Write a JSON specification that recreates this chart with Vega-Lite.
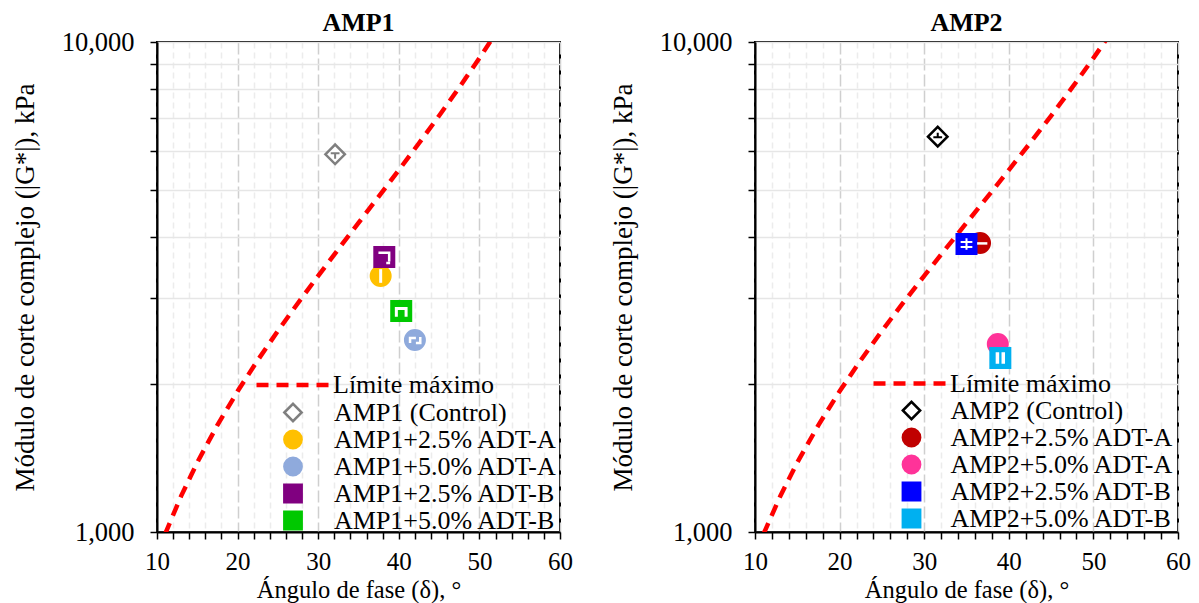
{
  "$schema": "https://vega.github.io/schema/vega-lite/v6.json",
  "padding": {"left": 10, "top": 9, "right": 5, "bottom": 0},
  "background": "white",
  "datasets": {
    "curve": [
      {"d": 11, "g": 990}, {"d": 13, "g": 1185}, {"d": 15, "g": 1387}, {"d": 17.5, "g": 1653},
      {"d": 20, "g": 1937}, {"d": 22.5, "g": 2242}, {"d": 25, "g": 2573}, {"d": 27.5, "g": 2934},
      {"d": 30, "g": 3333}, {"d": 32.5, "g": 3777}, {"d": 35, "g": 4274}, {"d": 37.5, "g": 4836},
      {"d": 40, "g": 5477}, {"d": 42.5, "g": 6214}, {"d": 45, "g": 7071}, {"d": 47.5, "g": 8077},
      {"d": 50, "g": 9270}, {"d": 52, "g": 10395}
    ],
    "amp1": [
      {"s": "AMP1 (Control)", "d": 32.1, "g": 5900},
      {"s": "AMP1+2.5% ADT-A", "d": 37.75, "g": 3330},
      {"s": "AMP1+5.0% ADT-A", "d": 42.0, "g": 2465},
      {"s": "AMP1+2.5% ADT-B", "d": 38.2, "g": 3640},
      {"s": "AMP1+5.0% ADT-B", "d": 40.3, "g": 2825}
    ],
    "amp2": [
      {"s": "AMP2 (Control)", "d": 31.6, "g": 6410},
      {"s": "AMP2+2.5% ADT-A", "d": 36.6, "g": 3890},
      {"s": "AMP2+5.0% ADT-A", "d": 38.7, "g": 2420},
      {"s": "AMP2+2.5% ADT-B", "d": 35.0, "g": 3870},
      {"s": "AMP2+5.0% ADT-B", "d": 39.0, "g": 2265}
    ]
  },
  "spacing": 34,
  "resolve": {
    "scale": {"x": "independent", "y": "independent", "fill": "independent", "stroke": "independent", "shape": "independent", "strokeDash": "independent"},
    "legend": {"fill": "independent", "stroke": "independent", "shape": "independent", "strokeDash": "independent"}
  },
  "hconcat": [
    {
      "width": 403,
      "height": 490,
      "title": "AMP1",
      "encoding": {
        "x": {"field": "d", "type": "quantitative", "scale": {"domain": [10, 60], "nice": false, "zero": false},
          "axis": {"title": "Ángulo de fase (δ), °", "values": [10,12,14,16,18,20,22,24,26,28,30,32,34,36,38,40,42,44,46,48,50,52,54,56,58,60],
            "labelExpr": "datum.value % 10 === 0 ? datum.label : ''", "labelPadding": 10, "titlePadding": 4, "labelFontSize": 25, "titleFontSize": 24.5,
            "gridColor": {"condition": {"test": "datum.value % 10 === 0", "value": "#cfcfcf"}, "value": "#ececec"},
            "gridDash": {"condition": {"test": "datum.value % 10 === 0", "value": [12, 4]}, "value": [6, 4]},
            "gridWidth": 1.5}},
        "y": {"field": "g", "type": "quantitative", "scale": {"type": "log", "domain": [1000, 10000], "nice": false},
          "axis": {"title": "Módulo de corte complejo (|G*|), kPa", "values": [1000,2000,3000,4000,5000,6000,7000,8000,9000,10000],
            "format": ",", "labelExpr": "datum.value === 1000 || datum.value === 10000 ? datum.label : ''", "labelFontSize": 26.5, "titleFontSize": 27,
            "labelPadding": 16, "titlePadding": 22, "gridColor": "#e6e6e6", "gridWidth": 1.5}}
      },
      "layer": [
        {
          "data": {"name": "curve"},
          "mark": {"type": "line", "color": "#FF0000", "strokeWidth": 4.5, "clip": true},
          "encoding": {
            "strokeDash": {"datum": "Límite máximo", "scale": {"domain": ["Límite máximo"], "range": [[12, 8]]},
              "legend": {"orient": "none", "legendX": 97, "legendY": 304, "title": null, "symbolType": "stroke", "symbolSize": 5329,
                "symbolStrokeWidth": 4.5, "symbolStrokeColor": "#FF0000", "labelOffset": 1, "labelFontSize": 26, "padding": 0}}
          }
        },
        {
          "data": {"name": "amp1"},
          "mark": {"type": "point", "filled": true, "size": 380, "strokeWidth": 2.5, "opacity": 1},
          "encoding": {
            "fill": {"field": "s", "type": "nominal",
              "scale": {"domain": ["AMP1 (Control)", "AMP1+2.5% ADT-A", "AMP1+5.0% ADT-A", "AMP1+2.5% ADT-B", "AMP1+5.0% ADT-B"],
                "range": ["#FFFFFF", "#FFC000", "#8FAADC", "#800080", "#00C800"]},
              "legend": {"orient": "none", "legendX": 123, "legendY": 357.5, "title": null, "symbolSize": 300, "symbolStrokeWidth": 2.5,
                "labelOffset": 28, "labelFontSize": 26, "rowPadding": -2, "padding": 0}},
            "stroke": {"field": "s", "type": "nominal",
              "scale": {"domain": ["AMP1 (Control)", "AMP1+2.5% ADT-A", "AMP1+5.0% ADT-A", "AMP1+2.5% ADT-B", "AMP1+5.0% ADT-B"],
                "range": ["#7F7F7F", "#FFC000", "#8FAADC", "#800080", "#00C800"]},
              "legend": {"orient": "none", "legendX": 123, "legendY": 357.5, "title": null, "symbolSize": 300, "symbolStrokeWidth": 2.5,
                "labelOffset": 28, "labelFontSize": 26, "rowPadding": -2, "padding": 0}},
            "shape": {"field": "s", "type": "nominal",
              "scale": {"domain": ["AMP1 (Control)", "AMP1+2.5% ADT-A", "AMP1+5.0% ADT-A", "AMP1+2.5% ADT-B", "AMP1+5.0% ADT-B"],
                "range": ["diamond", "circle", "circle", "square", "square"]},
              "legend": {"orient": "none", "legendX": 123, "legendY": 357.5, "title": null, "symbolSize": 300, "symbolStrokeWidth": 2.5,
                "labelOffset": 28, "labelFontSize": 26, "rowPadding": -2, "padding": 0}}
          }
        },
        {
          "data": {"name": "amp1"},
          "transform": [{"filter": "datum.s === 'AMP1 (Control)'"}],
          "mark": {"type": "point", "filled": false, "shape": "M-0.45,-0.1H0.45M0,-0.1V0.45", "size": 380, "stroke": "#7F7F7F", "strokeWidth": 2, "opacity": 1},
          "encoding": {}
        },
        {
          "data": {"name": "amp1"},
          "transform": [{"filter": "datum.s === 'AMP1+2.5% ADT-A'"}],
          "mark": {"type": "point", "filled": false, "shape": "M0,-0.7V0.7", "size": 380, "stroke": "#FFFFFF", "strokeWidth": 3, "opacity": 1},
          "encoding": {}
        },
        {
          "data": {"name": "amp1"},
          "transform": [{"filter": "datum.s === 'AMP1+5.0% ADT-B'"}],
          "mark": {"type": "point", "filled": false, "shape": "M-0.5,0.6V-0.25H0.5V0.6", "size": 380, "stroke": "#FFFFFF", "strokeWidth": 3, "opacity": 1},
          "encoding": {}
        },
        {
          "data": {"name": "amp1"},
          "transform": [{"filter": "datum.s === 'AMP1+2.5% ADT-B'"}],
          "mark": {"type": "point", "filled": false, "shape": "M-0.6,-0.45H0.5V0.45M0.2,0.6H0.6", "size": 380, "stroke": "#FFFFFF", "strokeWidth": 2.5, "opacity": 1},
          "encoding": {}
        },
        {
          "data": {"name": "amp1"},
          "transform": [{"filter": "datum.s === 'AMP1+5.0% ADT-A'"}],
          "mark": {"type": "point", "filled": false, "shape": "M-0.5,0.3V-0.2H0.1M0.1,0.3H0.55V-0.3", "size": 380, "stroke": "#FFFFFF", "strokeWidth": 2.5, "opacity": 1},
          "encoding": {}
        }
      ]
    },
    {
      "width": 423,
      "height": 490,
      "title": "AMP2",
      "encoding": {
        "x": {"field": "d", "type": "quantitative", "scale": {"domain": [10, 60], "nice": false, "zero": false},
          "axis": {"title": "Ángulo de fase (δ), °", "values": [10,12,14,16,18,20,22,24,26,28,30,32,34,36,38,40,42,44,46,48,50,52,54,56,58,60],
            "labelExpr": "datum.value % 10 === 0 ? datum.label : ''", "labelPadding": 10, "titlePadding": 4, "labelFontSize": 25, "titleFontSize": 24.5,
            "gridColor": {"condition": {"test": "datum.value % 10 === 0", "value": "#cfcfcf"}, "value": "#ececec"},
            "gridDash": {"condition": {"test": "datum.value % 10 === 0", "value": [12, 4]}, "value": [6, 4]},
            "gridWidth": 1.5}},
        "y": {"field": "g", "type": "quantitative", "scale": {"type": "log", "domain": [1000, 10000], "nice": false},
          "axis": {"title": "Módulo de corte complejo (|G*|), kPa", "values": [1000,2000,3000,4000,5000,6000,7000,8000,9000,10000],
            "format": ",", "labelExpr": "datum.value === 1000 || datum.value === 10000 ? datum.label : ''", "labelFontSize": 26.5, "titleFontSize": 27,
            "labelPadding": 16, "titlePadding": 22, "gridColor": "#e6e6e6", "gridWidth": 1.5}}
      },
      "layer": [
        {
          "data": {"name": "curve"},
          "mark": {"type": "line", "color": "#FF0000", "strokeWidth": 4.5, "clip": true},
          "encoding": {
            "strokeDash": {"datum": "Límite máximo", "scale": {"domain": ["Límite máximo"], "range": [[12, 8]]},
              "legend": {"orient": "none", "legendX": 116, "legendY": 302.5, "title": null, "symbolType": "stroke", "symbolSize": 5329,
                "symbolStrokeWidth": 4.5, "symbolStrokeColor": "#FF0000", "labelOffset": 1, "labelFontSize": 26, "padding": 0}}
          }
        },
        {
          "data": {"name": "amp2"},
          "mark": {"type": "point", "filled": true, "size": 380, "strokeWidth": 2.5, "opacity": 1},
          "encoding": {
            "fill": {"field": "s", "type": "nominal",
              "scale": {"domain": ["AMP2 (Control)", "AMP2+2.5% ADT-A", "AMP2+5.0% ADT-A", "AMP2+2.5% ADT-B", "AMP2+5.0% ADT-B"],
                "range": ["#FFFFFF", "#C00000", "#FF3399", "#0000FF", "#00B0F0"]},
              "legend": {"orient": "none", "legendX": 143.5, "legendY": 355.5, "title": null, "symbolSize": 300, "symbolStrokeWidth": 2.5,
                "labelOffset": 26, "labelFontSize": 26, "rowPadding": -2, "padding": 0}},
            "stroke": {"field": "s", "type": "nominal",
              "scale": {"domain": ["AMP2 (Control)", "AMP2+2.5% ADT-A", "AMP2+5.0% ADT-A", "AMP2+2.5% ADT-B", "AMP2+5.0% ADT-B"],
                "range": ["#000000", "#C00000", "#FF3399", "#0000FF", "#00B0F0"]},
              "legend": {"orient": "none", "legendX": 143.5, "legendY": 355.5, "title": null, "symbolSize": 300, "symbolStrokeWidth": 2.5,
                "labelOffset": 26, "labelFontSize": 26, "rowPadding": -2, "padding": 0}},
            "shape": {"field": "s", "type": "nominal",
              "scale": {"domain": ["AMP2 (Control)", "AMP2+2.5% ADT-A", "AMP2+5.0% ADT-A", "AMP2+2.5% ADT-B", "AMP2+5.0% ADT-B"],
                "range": ["diamond", "circle", "circle", "square", "square"]},
              "legend": {"orient": "none", "legendX": 143.5, "legendY": 355.5, "title": null, "symbolSize": 300, "symbolStrokeWidth": 2.5,
                "labelOffset": 26, "labelFontSize": 26, "rowPadding": -2, "padding": 0}}
          }
        },
        {
          "data": {"name": "amp2"},
          "transform": [{"filter": "datum.s === 'AMP2 (Control)'"}],
          "mark": {"type": "point", "filled": false, "shape": "M-0.45,0.05H0.45M0,0.05V-0.4", "size": 380, "stroke": "#000000", "strokeWidth": 2, "opacity": 1},
          "encoding": {}
        },
        {
          "data": {"name": "amp2"},
          "transform": [{"filter": "datum.s === 'AMP2+2.5% ADT-A'"}],
          "mark": {"type": "point", "filled": false, "shape": "M-0.3,0.05H0.75", "size": 380, "stroke": "#FFFFFF", "strokeWidth": 2.5, "opacity": 1},
          "encoding": {}
        },
        {
          "data": {"name": "amp2"},
          "transform": [{"filter": "datum.s === 'AMP2+2.5% ADT-B'"}],
          "mark": {"type": "point", "filled": false, "shape": "M-0.6,-0.2H0.6M-0.6,0.3H0.6M0,-0.6V0.6", "size": 380, "stroke": "#FFFFFF", "strokeWidth": 2, "opacity": 1},
          "encoding": {}
        },
        {
          "data": {"name": "amp2"},
          "transform": [{"filter": "datum.s === 'AMP2+5.0% ADT-B'"}],
          "mark": {"type": "point", "filled": false, "shape": "M-0.3,-0.6V0.6M0.3,-0.6V0.6", "size": 380, "stroke": "#FFFFFF", "strokeWidth": 3.5, "opacity": 1},
          "encoding": {}
        }
      ]
    }
  ],
  "config": {
    "font": "Liberation Serif",
    "view": {"stroke": "#000000", "strokeWidth": 2},
    "title": {"font": "Liberation Serif", "fontSize": 26, "fontWeight": "bold", "color": "#000000", "offset": -7},
    "axis": {"labelFont": "Liberation Serif", "titleFont": "Liberation Serif",
      "labelColor": "#000000", "titleColor": "#000000", "titleFontWeight": "normal", "domainColor": "#000000", "domainWidth": 2,
      "tickColor": "#000000", "tickWidth": 1.5, "tickSize": 7, "labelOverlap": false, "labelBound": false, "labelFlush": false},
    "legend": {"labelFont": "Liberation Serif", "labelColor": "#000000", "labelLimit": 0}
  }
}
